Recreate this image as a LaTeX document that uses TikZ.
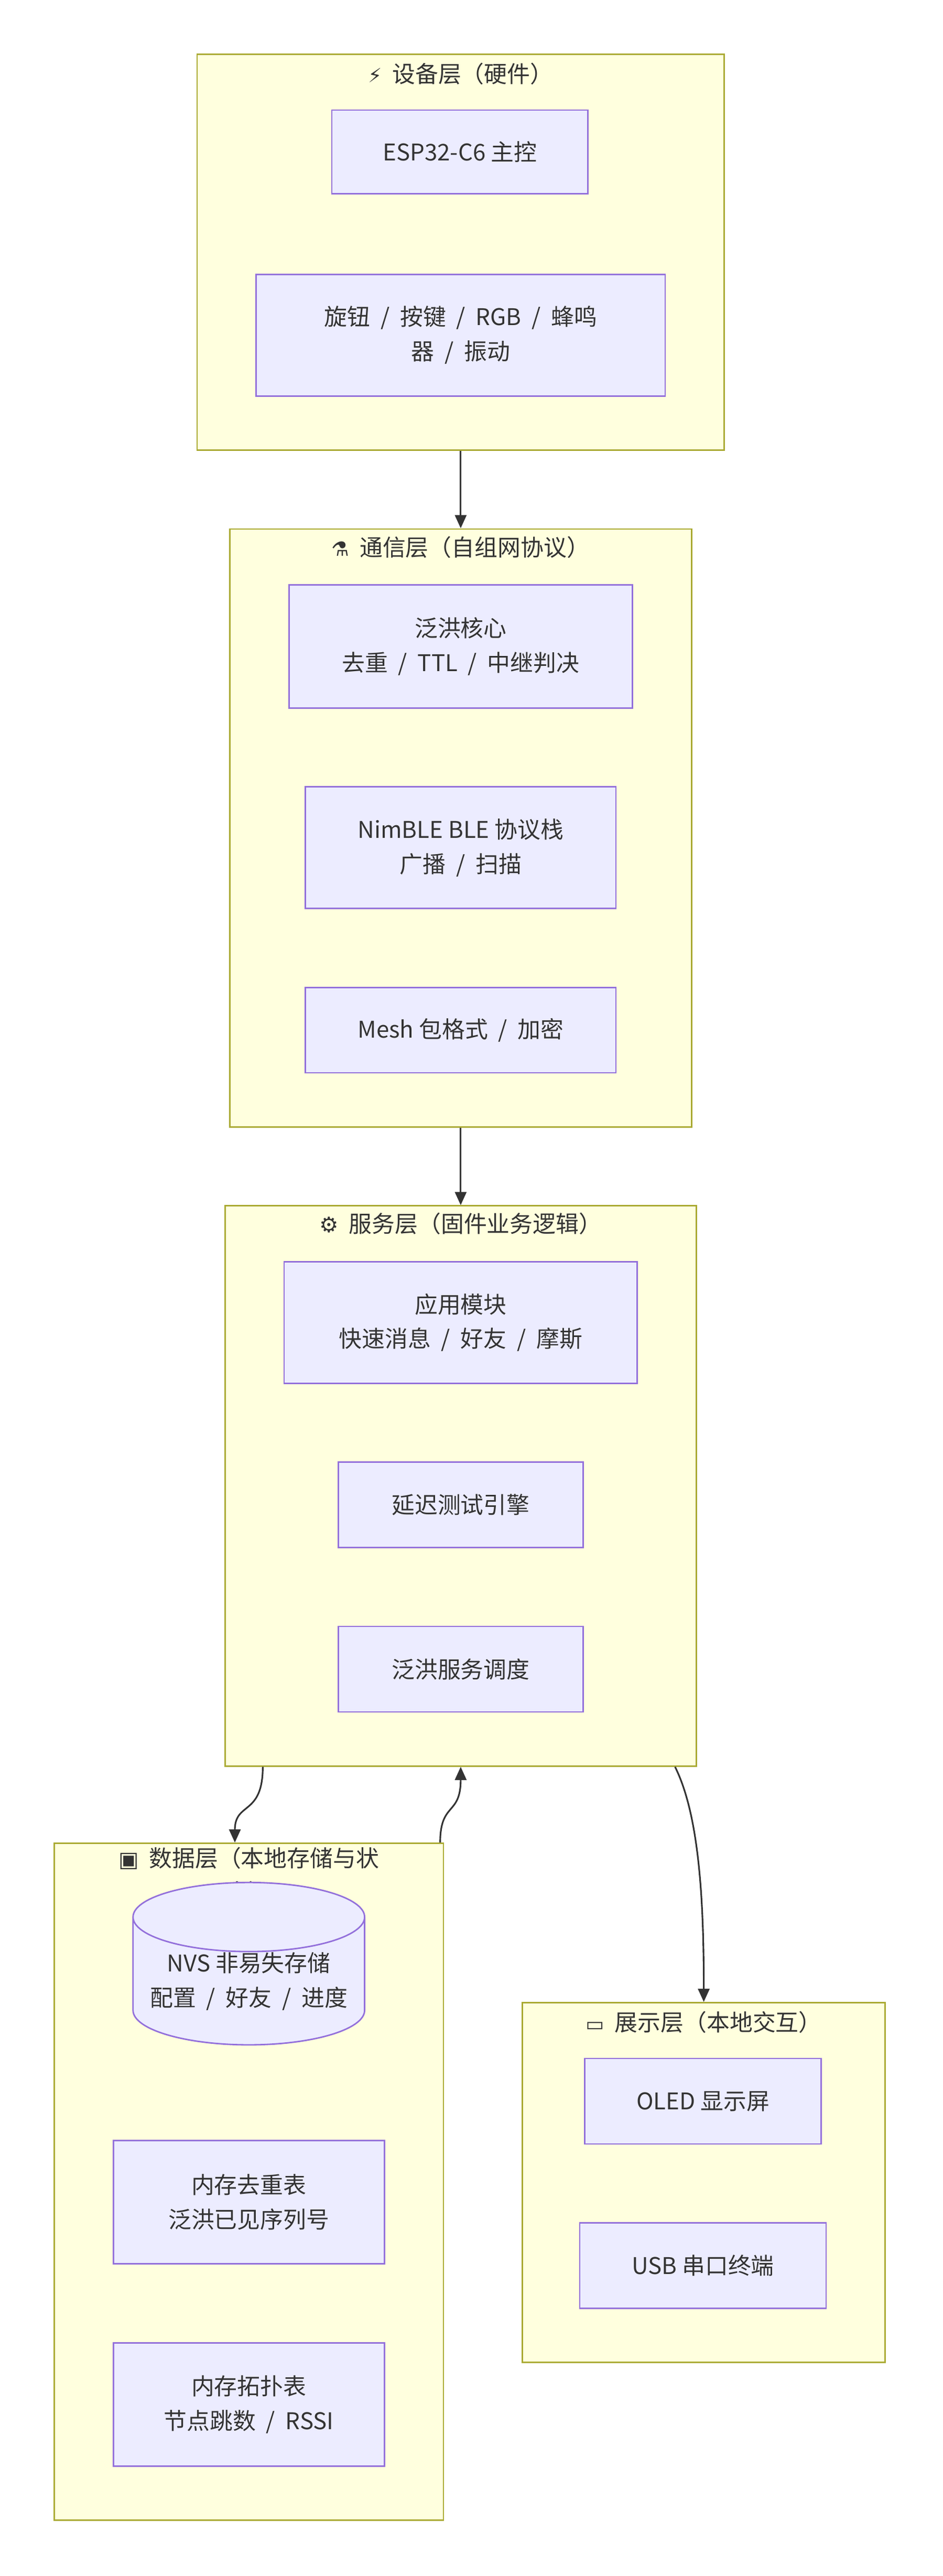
\documentclass[tikz,border=0pt]{standalone}
\usepackage{fontspec}
\setmainfont{Noto Sans CJK SC}
\newfontfamily\symfont{DejaVu Sans}
\usetikzlibrary{arrows.meta,shapes.geometric}
\definecolor{layerfill}{HTML}{FFFFDE}
\definecolor{layerline}{HTML}{AAAA33}
\definecolor{boxfill}{HTML}{ECECFF}
\definecolor{boxline}{HTML}{9370DB}
\definecolor{ink}{HTML}{333333}
\newcommand{\sep}{\hspace{0.45em}/\hspace{0.45em}}

\begin{document}
\begin{tikzpicture}[x=1pt,y=-1pt,
    every node/.style={text=ink,font=\fontsize{14}{21}\selectfont,align=center,inner sep=0pt},
    layer/.style={draw=layerline,fill=layerfill,line width=0.9pt},
    box/.style={draw=boxline,fill=boxfill,line width=0.9pt},
    flow/.style={draw=ink,line width=1pt,-{Triangle[length=8pt,width=7pt]}}]
    \useasboundingbox (0,0) rectangle (574,1568);
    % layers
    \node [layer,minimum width=321pt,minimum height=241pt] (dev) at (280.5,153.5) {};
    \node [layer,minimum width=281pt,minimum height=364pt] (com) at (280.5,504) {};
    \node [layer,minimum width=287pt,minimum height=341pt] (srv) at (280.5,904.5) {};
    \node [layer,minimum width=237pt,minimum height=412pt] (dat) at (151.5,1328) {};
    \node [layer,minimum width=221pt,minimum height=219pt] (dsp) at (428.5,1328.5) {};
    % titles
    \node (devT) at (280.5,45) {{\symfont\fontsize{12}{12}\selectfont ⚡}\ \ 设备层（硬件）};
    \node (comT) at (280.5,333) {{\symfont\fontsize{12}{12}\selectfont ⚗}\ \ 通信层（自组网协议）};
    \node (srvT) at (280.5,745) {{\symfont\fontsize{13}{13}\selectfont ⚙}\ \ 服务层（固件业务逻辑）};
    \node [anchor=north] (datT) at (151.5,1124) {{\symfont\fontsize{13}{13}\selectfont ▣}\ \ 数据层（本地存储与状\\态）};
    \node (dspT) at (428.5,1231) {{\symfont\fontsize{12}{12}\selectfont ▭}\ \ 展示层（本地交互）};
    % device
    \node [box,minimum width=156pt,minimum height=51pt] (esp) at (280,92.5) {ESP32-C6 主控};
    \node [box,minimum width=249pt,minimum height=74pt] (io) at (280.5,204) {旋钮\sep 按键\sep RGB\sep 蜂鸣\\器\sep 振动};
    % comm
    \node [box,minimum width=209pt,minimum height=75pt] (flood) at (280.5,393.5) {泛洪核心\\去重\sep TTL\sep 中继判决};
    \node [box,minimum width=189pt,minimum height=74pt] (ble) at (280.5,516) {NimBLE BLE 协议栈\\广播\sep 扫描};
    \node [box,minimum width=189pt,minimum height=52pt] (pkt) at (280.5,627) {Mesh 包格式\sep 加密};
    % service
    \node [box,minimum width=215pt,minimum height=74pt] (app) at (280.5,805) {应用模块\\快速消息\sep 好友\sep 摩斯};
    \node [box,minimum width=149pt,minimum height=52pt] (lat) at (280.5,916) {延迟测试引擎};
    \node [box,minimum width=149pt,minimum height=52pt] (sch) at (280.5,1016) {泛洪服务调度};
    % data
    \node [box,cylinder,shape border rotate=90,aspect=0.35,minimum width=141pt,minimum height=98pt] (nvs) at (151.5,1206) {NVS 非易失存储\\配置\sep 好友\sep 进度};
    \node [box,minimum width=165pt,minimum height=75pt] (dedup) at (151.5,1340.5) {内存去重表\\泛洪已见序列号};
    \node [box,minimum width=165pt,minimum height=75pt] (topo) at (151.5,1463.5) {内存拓扑表\\节点跳数\sep RSSI};
    % display
    \node [box,minimum width=144pt,minimum height=52pt] (oled) at (428,1279) {OLED 显示屏};
    \node [box,minimum width=150pt,minimum height=52pt] (usb) at (428,1379) {USB 串口终端};
    % connectors
    \draw [flow] (dev.south) -- (com.north);
    \draw [flow] (com.south) -- (srv.north);
    \draw [flow] ([xshift=-120.5pt]srv.south) .. controls +(0,30) and +(0,-25) .. ([xshift=-8.5pt]dat.north);
    \draw [flow] ([xshift=116.5pt]dat.north) .. controls +(0,-25) and +(0,30) .. (srv.south);
    \draw [flow] ([xshift=130.5pt]srv.south) .. controls +(15,30) and +(0,-60) .. (dsp.north);
\end{tikzpicture}
\end{document}
